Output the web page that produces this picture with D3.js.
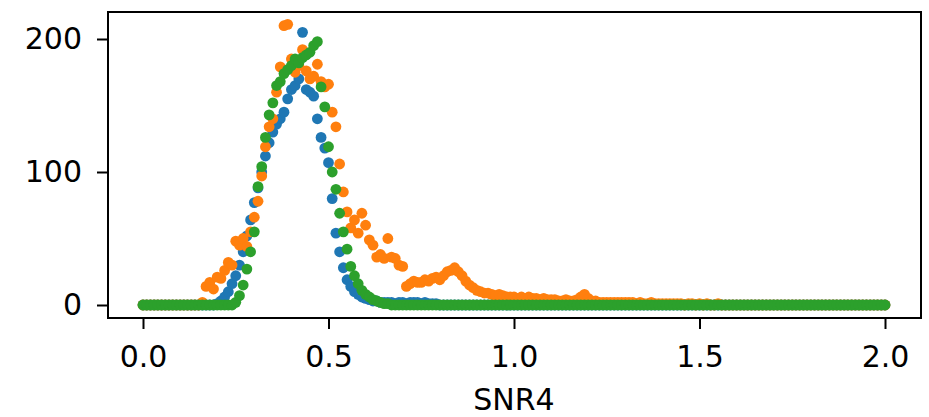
<!DOCTYPE html>
<html>
<head>
<meta charset="utf-8">
<script src="https://cdn.jsdelivr.net/npm/d3@7"></script>
<style>
  html, body { margin: 0; padding: 0; background: #ffffff; }
  svg { display: block; }
  text { font-family: "DejaVu Sans", sans-serif; fill: #000; }
</style>
</head>
<body>
<svg id="chart" width="929" height="417"></svg>
<script>
// ---- data ----
const xValues = [
  0.00,0.01,0.02,0.03,0.04,0.05,0.06,0.07,0.08,0.09,
  0.10,0.11,0.12,0.13,0.14,0.15,0.16,0.17,0.18,0.19,
  0.20,0.21,0.22,0.23,0.24,0.25,0.26,0.27,0.28,0.29,
  0.30,0.31,0.32,0.33,0.34,0.35,0.36,0.37,0.38,0.39,
  0.40,0.41,0.42,0.43,0.44,0.45,0.46,0.47,0.48,0.49,
  0.50,0.51,0.52,0.53,0.54,0.55,0.56,0.57,0.58,0.59,
  0.60,0.61,0.62,0.63,0.64,0.65,0.66,0.67,0.68,0.69,
  0.70,0.71,0.72,0.73,0.74,0.75,0.76,0.77,0.78,0.79,
  0.80,0.81,0.82,0.83,0.84,0.85,0.86,0.87,0.88,0.89,
  0.90,0.91,0.92,0.93,0.94,0.95,0.96,0.97,0.98,0.99,
  1.00,1.01,1.02,1.03,1.04,1.05,1.06,1.07,1.08,1.09,
  1.10,1.11,1.12,1.13,1.14,1.15,1.16,1.17,1.18,1.19,
  1.20,1.21,1.22,1.23,1.24,1.25,1.26,1.27,1.28,1.29,
  1.30,1.31,1.32,1.33,1.34,1.35,1.36,1.37,1.38,1.39,
  1.40,1.41,1.42,1.43,1.44,1.45,1.46,1.47,1.48,1.49,
  1.50,1.51,1.52,1.53,1.54,1.55,1.56,1.57,1.58,1.59,
  1.60,1.61,1.62,1.63,1.64,1.65,1.66,1.67,1.68,1.69,
  1.70,1.71,1.72,1.73,1.74,1.75,1.76,1.77,1.78,1.79,
  1.80,1.81,1.82,1.83,1.84,1.85,1.86,1.87,1.88,1.89,
  1.90,1.91,1.92,1.93,1.94,1.95,1.96,1.97,1.98,1.99,
  2.00
];

const blueValues = [
  0,0,0,0,0,0,0,0,0,0,
  0,0,0,0,0,0,0,0,0,0,
  1,3,6,10,16,22,30,40,52,64,
  77,88,100,112,122,130,136,140,145,155,
  162,165,170,205,162,160,157,140,126,118,
  107,80,54,40,28,19,14,10,8,6,
  5,4,3,3,2,2,2,2,1,2,
  2,1,2,2,2,1,2,1,1,1,
  0,0,0,0,0,0,0,0,0,0,
  0,0,0,0,0,0,0,0,0,0,
  0,0,0,0,0,0,0,0,0,0,
  0,0,0,0,0,0,0,0,0,0,
  0,0,0,0,0,0,0,0,0,0,
  0,0,0,0,0,0,0,0,0,0,
  0,0,0,0,0,0,0,0,0,0,
  0,0,0,0,0,0,0,0,0,0,
  0,0,0,0,0,0,0,0,0,0,
  0,0,0,0,0,0,0,0,0,0,
  0,0,0,0,0,0,0,0,0,0,
  0,0,0,0,0,0,0,0,0,0,
  0
];

const orangeValues = [
  0,0,0,0,0,0,0,0,0,0,
  0,0,0,0,0,0,2,14,17,12,
  21,20,26,32,30,48,45,50,44,55,
  66,78,97,119,134,140,160,179,210,211,
  185,175,180,192,176,170,172,181,168,164,
  166,145,134,106,85,70,58,64,54,69,
  60,49,45,36,38,35,50,36,35,30,
  29,14,16,18,17,17,19,18,20,21,
  19,22,25,26,28,25,22,18,15,13,
  11,10,9,9,8,7,8,7,6,6,
  6,5,6,5,6,5,5,4,5,4,
  4,4,3,3,4,3,3,4,6,8,
  5,3,3,2,2,2,2,2,2,2,
  2,2,2,1,2,1,1,2,1,1,
  1,1,1,1,1,1,0,1,1,0,
  1,0,1,0,0,1,0,0,0,0,
  0,0,0,0,0,0,0,0,0,0,
  0,0,0,0,0,0,0,0,0,0,
  0,0,0,0,0,0,0,0,0,0,
  0,0,0,0,0,0,0,0,0,0,
  0
];

const greenValues = [
  0,0,0,0,0,0,0,0,0,0,
  0,0,0,0,0,0,0,0,0,0,
  0,0,0,0,0,2,7,15,27,40,
  55,89,104,126,143,152,165,168,174,177,
  180,185,182,186,188,190,195,198,164,149,
  119,100,87,69,55,42,29,22,16,11,
  8,6,4,3,2,1,1,0,0,0,
  0,0,0,0,0,0,0,0,0,0,
  0,0,0,0,0,0,0,0,0,0,
  0,0,0,0,0,0,0,0,0,0,
  0,0,0,0,0,0,0,0,0,0,
  0,0,0,0,0,0,0,0,0,0,
  0,0,0,0,0,0,0,0,0,0,
  0,0,0,0,0,0,0,0,0,0,
  0,0,0,0,0,0,0,0,0,0,
  0,0,0,0,0,0,0,0,0,0,
  0,0,0,0,0,0,0,0,0,0,
  0,0,0,0,0,0,0,0,0,0,
  0,0,0,0,0,0,0,0,0,0,
  0,0,0,0,0,0,0,0,0,0,
  0
];

const seriesNames = ["blue", "orange", "green"];
const seriesColors = ["#1f77b4", "#ff7f0e", "#2ca02c"];
const xTickValues = [0.0, 0.5, 1.0, 1.5, 2.0];
const xTickLabels = ["0.0", "0.5", "1.0", "1.5", "2.0"];
const yTickValues = [0, 100, 200];
const yTickLabels = ["0", "100", "200"];
const xAxisTitle = "SNR4";

// ---- layout ----
const box = { left: 108, right: 921, top: 12, bottom: 318 };
const svg = d3.select("#chart");

const x = d3.scaleLinear().domain([0, 2]).range([143, 885]);
const y = d3.scaleLinear().domain([0, 200]).range([305, 39]);

const allSeries = [blueValues, orangeValues, greenValues];

allSeries.forEach((vals, si) => {
  svg.append("g")
    .attr("class", "series-" + seriesNames[si])
    .selectAll("circle")
    .data(vals.map((v, i) => ({ x: xValues[i], y: v })))
    .join("circle")
    .attr("cx", d => x(d.x))
    .attr("cy", d => y(d.y))
    .attr("r", 5.4)
    .attr("fill", seriesColors[si]);
});

// axes
const xAxis = d3.axisBottom(x)
  .tickValues(xTickValues)
  .tickFormat((d, i) => xTickLabels[i])
  .tickSize(11)
  .tickPadding(17);
const gx = svg.append("g").attr("transform", `translate(0,${box.bottom})`).call(xAxis);
gx.select(".domain").remove();
gx.selectAll(".tick line").attr("stroke", "#000").attr("stroke-width", 2);
gx.selectAll(".tick text").attr("font-size", 30).attr("font-family", "DejaVu Sans");

const yAxis = d3.axisLeft(y)
  .tickValues(yTickValues)
  .tickFormat((d, i) => yTickLabels[i])
  .tickSize(11)
  .tickPadding(15);
const gy = svg.append("g").attr("transform", `translate(${box.left},0)`).call(yAxis);
gy.select(".domain").remove();
gy.selectAll(".tick line").attr("stroke", "#000").attr("stroke-width", 2);
gy.selectAll(".tick text").attr("font-size", 30).attr("font-family", "DejaVu Sans");

// frame
svg.append("rect")
  .attr("x", box.left).attr("y", box.top)
  .attr("width", box.right - box.left).attr("height", box.bottom - box.top)
  .attr("fill", "none").attr("stroke", "#000").attr("stroke-width", 2);

// x title
svg.append("text")
  .attr("x", (x(0) + x(2)) / 2)
  .attr("y", 410)
  .attr("text-anchor", "middle")
  .attr("font-size", 30)
  .text(xAxisTitle);
</script>
</body>
</html>
